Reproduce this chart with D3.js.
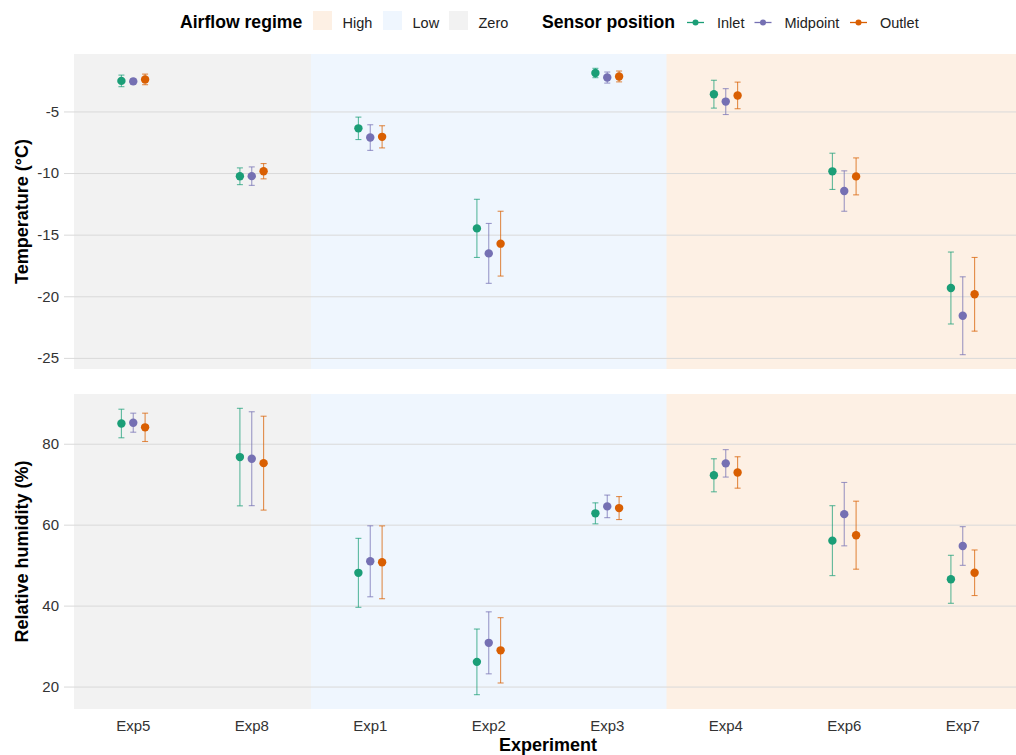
<!DOCTYPE html>
<html>
<head>
<meta charset="utf-8">
<script src="https://cdn.jsdelivr.net/npm/d3@7"></script>
<style>
  html, body { margin: 0; padding: 0; background: #ffffff; }
  svg { display: block; font-family: "Liberation Sans", Arial, sans-serif; }
</style>
</head>
<body>
<svg id="chart" width="1016" height="755"></svg>
<script>
// Experiments in plotting order and their airflow regime
const experiments = ["Exp5", "Exp8", "Exp1", "Exp2", "Exp3", "Exp4", "Exp6", "Exp7"];
const airflow = ["Zero", "Zero", "Low", "Low", "Low", "High", "High", "High"];
const regimes = ["High", "Low", "Zero"];
const sensors = ["Inlet", "Midpoint", "Outlet"];

// Temperature (°C): mean and standard deviation per sensor, in experiment order
const tempInlet = [-2.52, -10.26, -6.37, -14.49, -1.88, -3.60, -9.86, -19.33];
const tempInletSd = [0.47, 0.68, 0.91, 2.36, 0.38, 1.13, 1.47, 2.92];
const tempMidpoint = [-2.56, -10.25, -7.12, -16.52, -2.25, -4.20, -11.46, -21.58];
const tempMidpointSd = [0.22, 0.75, 1.04, 2.43, 0.45, 1.05, 1.64, 3.16];
const tempOutlet = [-2.40, -9.85, -7.06, -15.73, -2.16, -3.70, -10.27, -19.84];
const tempOutletSd = [0.43, 0.62, 0.90, 2.63, 0.44, 1.08, 1.50, 2.99];

// Relative humidity (%): mean and standard deviation per sensor
const rhInlet = [85.0, 76.7, 48.1, 26.1, 62.8, 72.2, 56.05, 46.5];
const rhInletSd = [3.53, 12.05, 8.52, 8.11, 2.59, 4.08, 8.64, 5.93];
const rhMidpoint = [85.2, 76.3, 50.95, 30.8, 64.52, 75.15, 62.6, 54.73];
const rhMidpointSd = [2.35, 11.6, 8.77, 7.66, 2.79, 3.39, 7.83, 4.78];
const rhOutlet = [84.05, 75.2, 50.7, 28.95, 64.1, 72.9, 57.4, 48.12];
const rhOutletSd = [3.5, 11.6, 9.0, 8.07, 2.84, 3.88, 8.4, 5.63];

const tempTicks = [-25, -20, -15, -10, -5];
const rhTicks = [20, 40, 60, 80];

const sensorColor = d3.scaleOrdinal().domain(sensors).range(["#1b9e77", "#7570b3", "#d95f02"]);
const regimeColor = d3.scaleOrdinal().domain(regimes).range(["#fdf0e4", "#eff6fe", "#f2f2f2"]);

function rows(means, sds) {
  return sensors.flatMap((s, si) => experiments.map((e, ei) => ({
    exp: e, sensor: s, mean: means[si][ei], sd: sds[si][ei]
  })));
}

const panels = [
  {
    title: "Temperature (°C)", ticks: tempTicks, top: 54, bottom: 369,
    data: rows([tempInlet, tempMidpoint, tempOutlet], [tempInletSd, tempMidpointSd, tempOutletSd])
  },
  {
    title: "Relative humidity (%)", ticks: rhTicks, top: 394, bottom: 709,
    data: rows([rhInlet, rhMidpoint, rhOutlet], [rhInletSd, rhMidpointSd, rhOutletSd])
  }
];

const svg = d3.select("#chart");
const left = 74, right = 1022;

const x = d3.scaleBand().domain(experiments).range([left, right]).padding(0);
const bw = x.bandwidth();
const dodge = d3.scalePoint().domain(sensors).range([-0.1 * bw, 0.1 * bw]);
const cx = d => x(d.exp) + bw / 2 + dodge(d.sensor);

panels.forEach(p => {
  const lo = d3.min(p.data, d => d.mean - d.sd);
  const hi = d3.max(p.data, d => d.mean + d.sd);
  const pad = (hi - lo) * 0.05;
  const y = d3.scaleLinear().domain([lo - pad, hi + pad]).range([p.bottom, p.top]);

  const g = svg.append("g");

  // Regime background bands
  g.selectAll("rect.band").data(experiments).join("rect")
    .attr("class", "band")
    .attr("x", e => x(e))
    .attr("width", bw + 0.5)
    .attr("y", p.top)
    .attr("height", p.bottom - p.top)
    .attr("fill", (e, i) => regimeColor(airflow[i]));

  // Horizontal gridlines with tick labels (plain hyphen for negatives)
  const axis = d3.axisLeft(y).tickValues(p.ticks).tickFormat(d => String(d))
    .tickSize(-(right - left + 10)).tickPadding(5);
  const ax = g.append("g").attr("transform", `translate(${left - 10},0)`).call(axis);
  ax.select(".domain").remove();
  ax.selectAll(".tick line").attr("stroke", "#d9d9d9").attr("stroke-width", 1);
  ax.selectAll(".tick text").attr("fill", "#333").attr("font-size", 15);

  // Y axis title
  g.append("text")
    .attr("transform", `translate(27.5,${(p.top + p.bottom) / 2}) rotate(-90)`)
    .attr("text-anchor", "middle")
    .attr("font-size", 18).attr("font-weight", "bold").attr("fill", "#000")
    .text(p.title);

  // Error bars (mean ± sd)
  const eb = g.selectAll("g.eb").data(p.data).join("g").attr("class", "eb")
    .attr("stroke", d => sensorColor(d.sensor))
    .attr("stroke-opacity", 0.7)
    .attr("stroke-width", 1.1);
  eb.append("line")
    .attr("x1", cx).attr("x2", cx)
    .attr("y1", d => y(d.mean + d.sd)).attr("y2", d => y(d.mean - d.sd));
  eb.append("line")
    .attr("x1", d => cx(d) - 3).attr("x2", d => cx(d) + 3)
    .attr("y1", d => y(d.mean + d.sd)).attr("y2", d => y(d.mean + d.sd));
  eb.append("line")
    .attr("x1", d => cx(d) - 3).attr("x2", d => cx(d) + 3)
    .attr("y1", d => y(d.mean - d.sd)).attr("y2", d => y(d.mean - d.sd));

  // Mean points
  g.selectAll("circle.pt").data(p.data).join("circle")
    .attr("class", "pt")
    .attr("cx", cx).attr("cy", d => y(d.mean))
    .attr("r", 4.2)
    .attr("fill", d => sensorColor(d.sensor));
});

// X axis labels below the lower panel
const xa = svg.append("g").attr("transform", "translate(0,709)")
  .call(d3.axisBottom(x).tickSize(0).tickPadding(11));
xa.select(".domain").remove();
xa.selectAll(".tick text").attr("fill", "#333").attr("font-size", 15);

svg.append("text")
  .attr("x", (left + right) / 2).attr("y", 751)
  .attr("text-anchor", "middle")
  .attr("font-size", 18).attr("font-weight", "bold").attr("fill", "#000")
  .text("Experiment");

// Legend: airflow regime
const leg = svg.append("g");
leg.append("text").attr("x", 180).attr("y", 28)
  .attr("font-size", 17.6).attr("font-weight", "bold").text("Airflow regime");
const regimeKeyX = [313, 383, 449];
regimes.forEach((r, i) => {
  leg.append("rect").attr("x", regimeKeyX[i]).attr("y", 11).attr("width", 19).attr("height", 19)
    .attr("fill", regimeColor(r));
  leg.append("text").attr("x", regimeKeyX[i] + 29.5).attr("y", 27.5)
    .attr("font-size", 14.5).attr("fill", "#222").text(r);
});

// Legend: sensor position
leg.append("text").attr("x", 542).attr("y", 28)
  .attr("font-size", 17.6).attr("font-weight", "bold").text("Sensor position");
const sensorKeyX = [687, 754.5, 850];
sensors.forEach((s, i) => {
  const kx = sensorKeyX[i];
  leg.append("line").attr("x1", kx).attr("x2", kx + 17).attr("y1", 22.5).attr("y2", 22.5)
    .attr("stroke", sensorColor(s)).attr("stroke-width", 1.3);
  leg.append("circle").attr("cx", kx + 8.5).attr("cy", 22.5).attr("r", 3)
    .attr("fill", sensorColor(s));
  leg.append("text").attr("x", kx + 30).attr("y", 27.5)
    .attr("font-size", 14.5).attr("fill", "#222").text(s);
});
</script>
</body>
</html>
